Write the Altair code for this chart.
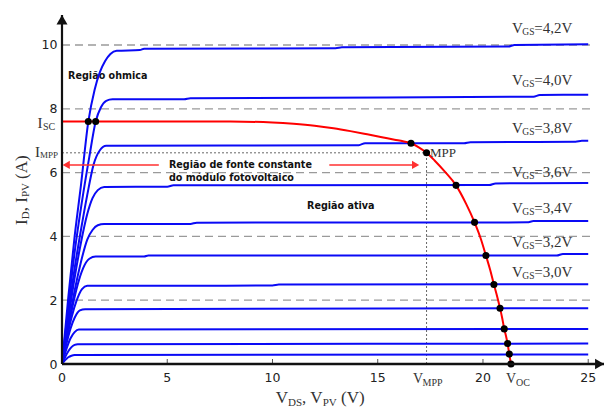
import altair as alt
import pandas as pd

# ---------------- data ----------------
curve_names = ["4,2V", "4,0V", "3,8V", "3,6V", "3,4V", "3,2V", "3,0V", "c8", "c9", "c10", "c11"]
curve_x = [
    [0, 0.3, 0.6, 0.9, 1.25, 1.55, 1.8, 2.05, 2.3, 2.6, 3.7, 3.9, 13.0, 13.3, 21.2, 21.5, 25],
    [0, 0.3, 0.6, 0.95, 1.3, 1.6, 1.85, 2.1, 2.4, 5.8, 6.1, 22.4, 22.7, 25],
    [0, 0.3, 0.6, 0.9, 1.2, 1.5, 1.8, 2.1, 14.1, 14.4, 19.1, 19.4, 24.4, 24.7, 25],
    [0, 0.3, 0.6, 0.9, 1.2, 1.45, 1.7, 2.0, 5.0, 5.3, 20.3, 20.6, 25],
    [0, 0.3, 0.6, 0.9, 1.2, 1.45, 1.7, 2.0, 6.1, 6.4, 22.1, 22.4, 25],
    [0, 0.25, 0.5, 0.75, 1.0, 1.3, 1.6, 3.9, 4.1, 23.5, 23.8, 25],
    [0, 0.2, 0.45, 0.7, 0.95, 1.2, 10.0, 10.3, 25],
    [0, 0.2, 0.4, 0.6, 0.85, 1.1, 25],
    [0, 0.2, 0.4, 0.6, 0.8, 25],
    [0, 0.15, 0.3, 0.45, 0.6, 0.75, 25],
    [0, 0.15, 0.3, 0.45, 0.6, 25],
]
curve_y = [
    [0, 2.1, 4.0, 5.6, 7.6, 8.6, 9.15, 9.5, 9.72, 9.82, 9.84, 9.88, 9.90, 9.93, 9.95, 10.0, 10.02],
    [0, 1.8, 3.5, 5.1, 6.5, 7.6, 8.05, 8.25, 8.30, 8.30, 8.33, 8.38, 8.43, 8.44],
    [0, 1.6, 3.0, 4.2, 5.3, 6.25, 6.7, 6.84, 6.86, 6.92, 6.92, 6.95, 6.97, 7.0, 7.0],
    [0, 1.4, 2.7, 3.8, 4.7, 5.2, 5.45, 5.55, 5.56, 5.6, 5.61, 5.66, 5.67],
    [0, 1.2, 2.3, 3.2, 3.9, 4.2, 4.35, 4.39, 4.39, 4.43, 4.44, 4.48, 4.48],
    [0, 0.95, 1.8, 2.5, 3.0, 3.3, 3.37, 3.37, 3.40, 3.40, 3.45, 3.45],
    [0, 0.7, 1.45, 2.0, 2.35, 2.45, 2.46, 2.49, 2.5],
    [0, 0.6, 1.1, 1.45, 1.68, 1.72, 1.75],
    [0, 0.45, 0.8, 1.0, 1.08, 1.10],
    [0, 0.22, 0.4, 0.53, 0.6, 0.62, 0.64],
    [0, 0.12, 0.21, 0.26, 0.28, 0.30],
]

pv_x = [0, 8, 10, 11, 12, 12.9, 13.7, 14.5, 15.2, 15.8, 16.2, 16.58, 16.95, 17.32, 17.7,
        18.2, 18.72, 19.2, 19.6, 19.9, 20.14, 20.35, 20.52, 20.68, 20.81, 20.92, 21.01,
        21.1, 21.17, 21.25, 21.33]
pv_y = [7.6, 7.6, 7.57, 7.53, 7.47, 7.39, 7.30, 7.2, 7.11, 7.03, 6.98, 6.92, 6.79, 6.62, 6.38,
        6.02, 5.6, 5.02, 4.44, 3.92, 3.40, 2.93, 2.49, 2.1, 1.75, 1.42, 1.10,
        0.86, 0.64, 0.31, 0]

dot_x = [1.25, 1.6, 16.58, 17.32, 18.72, 19.6, 20.14, 20.52, 20.81, 21.01, 21.17, 21.25, 21.33]
dot_y = [7.6, 7.6, 6.92, 6.62, 5.6, 4.44, 3.40, 2.49, 1.75, 1.10, 0.64, 0.31, 0]

isc = 7.6
impp = 6.62
vmpp = 17.32
voc = 21.33

x_ticks = [0, 5, 10, 15, 20, 25]
y_ticks = [0, 2, 4, 6, 8, 10]
grid_levels = [2, 4, 6, 8, 10]

vgs_text = ["=4,2V", "=4,0V", "=3,8V", "=3,6V", "=3,4V", "=3,2V", "=3,0V"]
vgs_y = [10.38, 8.75, 7.24, 5.86, 4.73, 3.67, 2.73]
vgs_x = 21.38

region_text = ["Região ohmica", "Região de fonte constante", "do módulo fotovoltaico", "Região ativa"]
region_x = [0.29, 5.08, 5.08, 11.64]
region_y = [8.92, 6.15, 5.74, 4.86]

arrow_y = 6.24
left_arrow = [4.6, 0.2]
right_arrow = [12.7, 16.8]

# ---------------- scales ----------------
X_MAX = 25.75
Y_MAX = 10.94
XS = alt.Scale(domain=[0, X_MAX], nice=False, zero=False)
YS = alt.Scale(domain=[0, Y_MAX], nice=False, zero=False)


def X(f="x"):
    return alt.X(f"{f}:Q", scale=XS, axis=None)


def Y(f="y"):
    return alt.Y(f"{f}:Q", scale=YS, axis=None)


SERIF = "Liberation Serif"
SANS = "DejaVu Sans"
TXT = "#333333"


def tlayer(df, font, size, dx, dy, color=TXT, weight="normal", angle=0, align="left"):
    mk = dict(align=align, baseline="alphabetic", dx=dx, dy=dy, font=font,
              fontSize=size, color=color, fontWeight=weight)
    if angle:
        mk["angle"] = angle
    return alt.Chart(df).mark_text(**mk).encode(x=X(), y=Y(), text="t:N")


def one(x, y, t):
    return pd.DataFrame({"x": [x], "y": [y], "t": [t]})


# ---------------- frames ----------------
rows = []
for name, xs, ys in zip(curve_names, curve_x, curve_y):
    for i, (a, b) in enumerate(zip(xs, ys)):
        rows.append({"curve": name, "i": i, "x": a, "y": b})
blue_df = pd.DataFrame(rows)
pv_df = pd.DataFrame({"x": pv_x, "y": pv_y, "i": range(len(pv_x))})
dot_df = pd.DataFrame({"x": dot_x, "y": dot_y})
grid_df = pd.DataFrame({"y": grid_levels, "x0": [0] * len(grid_levels), "x1": [25.1] * len(grid_levels)})

# ---------------- layers ----------------
grid = alt.Chart(grid_df).mark_rule(strokeDash=[8, 5], color="#9a9a9a", strokeWidth=1.3).encode(
    x=X("x0"), x2="x1:Q", y=Y("y"))

hdot = alt.Chart(pd.DataFrame({"x0": [0], "x1": [vmpp], "y": [impp]})).mark_rule(
    strokeDash=[2, 2], color="#666", strokeWidth=1).encode(x=X("x0"), x2="x1:Q", y=Y("y"))
vdot = alt.Chart(pd.DataFrame({"x": [vmpp], "y0": [0], "y1": [impp]})).mark_rule(
    strokeDash=[2, 2], color="#666", strokeWidth=1).encode(x=X("x"), y=Y("y0"), y2="y1:Q")

xtick = alt.Chart(pd.DataFrame({"x": x_ticks[1:]})).mark_rule(color="#555", strokeWidth=1).encode(
    x=X("x"), y=alt.value(349), y2=alt.value(344))

# axis lines (drawn as rules) and their arrowheads
x_axis_line = alt.Chart(pd.DataFrame({"x0": [0], "x1": [X_MAX], "y": [0]})).mark_rule(
    color="#111", strokeWidth=2.6).encode(x=X("x0"), x2="x1:Q", y=Y("y"))
y_axis_line = alt.Chart(pd.DataFrame({"x": [0], "y0": [0], "y1": [Y_MAX]})).mark_rule(
    color="#111", strokeWidth=2.2).encode(x=X("x"), y=Y("y0"), y2="y1:Q")
ax_up = alt.Chart(one(0, 10.79, "")).mark_point(
    shape="triangle-up", filled=True, size=121, color="#111", opacity=1).encode(x=X(), y=Y())
ax_right = alt.Chart(one(25.54, 0, "")).mark_point(
    shape="triangle-right", filled=True, size=110, color="#111", opacity=1).encode(x=X(), y=Y())

# tick labels
xlab = alt.Chart(pd.DataFrame({"x": x_ticks, "y": [0] * len(x_ticks), "t": [str(v) for v in x_ticks]})).mark_text(
    align="center", baseline="alphabetic", dy=17.5, font=SANS, fontSize=12.5, color="#222").encode(
    x=X(), y=Y(), text="t:N")
ylab = alt.Chart(pd.DataFrame({"x": [0] * len(y_ticks), "y": y_ticks, "t": [str(v) for v in y_ticks]})).mark_text(
    align="right", baseline="alphabetic", dx=-4.5, dy=4.5, font=SANS, fontSize=12.5, color="#222").encode(
    x=X(), y=Y(), text="t:N")

blue = alt.Chart(blue_df).mark_line(color="#0a0af5", strokeWidth=2, interpolate="monotone").encode(
    x=X(), y=Y(), detail="curve:N", order="i:Q")

red = alt.Chart(pv_df).mark_line(color="#ff0000", strokeWidth=2, interpolate="monotone").encode(
    x=X(), y=Y(), order="i:Q")

dots = alt.Chart(dot_df).mark_circle(size=50, color="black", opacity=1).encode(x=X(), y=Y())

arrow_lines = alt.Chart(pd.DataFrame({"x0": [left_arrow[0], right_arrow[0]],
                                      "x1": [left_arrow[1], right_arrow[1]],
                                      "y": [arrow_y, arrow_y]})).mark_rule(
    color="#ff3030", strokeWidth=1.5).encode(x=X("x0"), x2="x1:Q", y=Y("y"))
arrow_l = alt.Chart(one(left_arrow[1], arrow_y, "")).mark_point(
    shape="triangle-left", filled=True, size=70, color="#ff3030", opacity=1).encode(x=X(), y=Y())
arrow_r = alt.Chart(one(right_arrow[1], arrow_y, "")).mark_point(
    shape="triangle-right", filled=True, size=70, color="#ff3030", opacity=1).encode(x=X(), y=Y())

# region annotations
region_df = pd.DataFrame({"x": region_x, "y": region_y, "t": region_text})
regions = tlayer(region_df, SANS, 9.6, 0, 0, color="#111", weight="bold")

# VGS labels
vgs_df_v = pd.DataFrame({"x": [vgs_x] * 7, "y": vgs_y, "t": ["V"] * 7})
vgs_df_s = pd.DataFrame({"x": [vgs_x] * 7, "y": vgs_y, "t": ["GS"] * 7})
vgs_df_r = pd.DataFrame({"x": [vgs_x] * 7, "y": vgs_y, "t": vgs_text})
vgs_layers = [
    tlayer(vgs_df_v, SERIF, 15, 0, 0),
    tlayer(vgs_df_s, SERIF, 9.5, 10.3, 2),
    tlayer(vgs_df_r, SERIF, 15, 22.3, 0),
]

# special axis labels
special = [
    tlayer(one(0, isc, "I"), SERIF, 15, -24.5, 6.5),
    tlayer(one(0, isc, "SC"), SERIF, 10, -19, 8.5),
    tlayer(one(0, impp, "I"), SERIF, 15, -27, 3.8),
    tlayer(one(0, impp, "MPP"), SERIF, 9, -22, 5.5),
    tlayer(one(vmpp, 0, "V"), SERIF, 14, -13.6, 19.3),
    tlayer(one(vmpp, 0, "MPP"), SERIF, 10, -4, 22),
    tlayer(one(voc, 0, "V"), SERIF, 14, -5, 19.3),
    tlayer(one(voc, 0, "OC"), SERIF, 10, 5, 22),
    tlayer(one(vmpp, impp, "MPP"), SERIF, 13, 3.5, 4.3),
]

# axis titles (with subscripts)
xt_x = 10.15
xtitle = [
    tlayer(one(xt_x, 0, "V"), SERIF, 17, 0, 39),
    tlayer(one(xt_x, 0, "DS"), SERIF, 11, 12.3, 41.5),
    tlayer(one(xt_x, 0, ", V"), SERIF, 17, 26.3, 39),
    tlayer(one(xt_x, 0, "PV"), SERIF, 11, 47.1, 41.5),
    tlayer(one(xt_x, 0, "(V)"), SERIF, 17, 65.4, 39),
]
yt_y = 4.36
ytitle = [
    tlayer(one(0, yt_y, "I"), SERIF, 17, 0, -35.5, angle=270),
    tlayer(one(0, yt_y, "D"), SERIF, 11, 5.7, -33, angle=270),
    tlayer(one(0, yt_y, ", I"), SERIF, 17, 13.6, -35.5, angle=270),
    tlayer(one(0, yt_y, "PV"), SERIF, 11, 27.8, -33, angle=270),
    tlayer(one(0, yt_y, "(A)"), SERIF, 17, 46.0, -35.5, angle=270),
]

chart = alt.layer(
    grid, hdot, vdot, xtick, regions, *vgs_layers,
    blue, red, dots, arrow_lines, arrow_l, arrow_r,
    x_axis_line, y_axis_line, ax_up, ax_right, xlab, ylab,
    *special, *xtitle, *ytitle,
).properties(
    width=542, height=349,
    padding={"left": 54, "top": 7, "right": 2, "bottom": 44},
    autosize=alt.AutoSizeParams(type="none"),
    background="white",
).configure_view(stroke=None)

chart.save("out.html", embed_options={"renderer": "svg", "actions": False})
